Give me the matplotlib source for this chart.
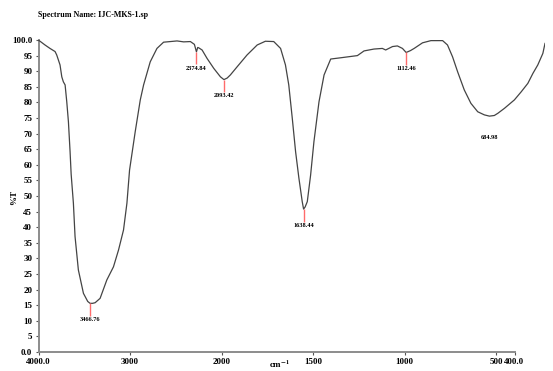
import matplotlib
matplotlib.use("Agg")
import matplotlib.pyplot as plt
import numpy as np

# FT-IR trace (wavenumber in cm-1, %T)
wavenumber = [4000, 3979, 3928, 3877, 3825, 3808, 3774, 3756, 3740, 3722, 3705,
              3688, 3671, 3660, 3637, 3620, 3586, 3534, 3490, 3466, 3440, 3414,
              3363, 3294, 3226, 3174, 3123, 3088, 3061, 3003, 2951, 2917, 2849,
              2780, 2712, 2643, 2574, 2506, 2437, 2396, 2375, 2362, 2352, 2317,
              2266, 2197, 2129, 2093, 2060, 2027, 1979, 1928, 1876, 1834, 1791,
              1756, 1731, 1714, 1696, 1679, 1662, 1645, 1638, 1630, 1619, 1602,
              1585, 1559, 1533, 1499, 1448, 1362, 1328, 1277, 1234, 1217, 1182,
              1157, 1131, 1112, 1090, 1071, 1028, 985, 925, 900, 874, 848, 814,
              780, 745, 711, 685, 660, 642, 608, 557, 522, 488, 462, 437, 411, 400]
transmittance = [100.0, 99.6, 98.4, 97.3, 96.3, 95.2, 92.0, 88.2, 86.6, 85.6, 80.2,
                 73.8, 64.2, 57.0, 47.7, 37.0, 26.3, 18.8, 16.2, 15.6, 15.6, 15.8,
                 17.2, 23.1, 27.3, 32.7, 39.1, 47.7, 58.3, 70.6, 80.8, 85.6, 93.0,
                 97.3, 99.3, 99.5, 99.7, 99.4, 99.5, 98.6, 96.2, 97.6, 97.5, 96.8,
                 94.1, 90.9, 88.2, 87.3, 87.8, 88.8, 91.4, 95.2, 98.4, 99.6, 99.5,
                 97.3, 92.0, 85.6, 74.9, 64.2, 55.7, 48.2, 45.8, 46.5, 48.2, 56.7,
                 67.4, 80.2, 88.8, 93.9, 94.3, 95.0, 96.5, 97.1, 97.3, 96.8, 97.9,
                 98.1, 97.3, 96.0, 96.6, 97.3, 99.1, 99.8, 99.8, 98.4, 94.6, 89.8,
                 84.0, 79.7, 77.0, 76.0, 75.6, 75.8, 76.5, 78.1, 80.8, 83.4, 86.1,
                 89.3, 92.0, 95.7, 98.9]

peak_wavenumbers = [3466.76, 2374.84, 2093.42, 1638.44, 1112.46, 684.98]
peak_values = [15.6, 96.2, 87.3, 45.8, 96.0, 75.6]
peak_labels = ["3466.76", "2374.84", "2093.42", "1638.44", "1112.46", "684.98"]

x_ticks = [4000, 3000, 2000, 1500, 1000, 500, 400]
x_tick_labels = ["4000.0", "3000", "2000", "1500", "1000", "500", "400.0"]
y_ticks = [0, 5, 10, 15, 20, 25, 30, 35, 40, 45, 50, 55, 60, 65, 70, 75, 80, 85, 90, 95, 100]
y_tick_labels = ["0.0", "5", "10", "15", "20", "25", "30", "35", "40", "45", "50",
                 "55", "60", "65", "70", "75", "80", "85", "90", "95", "100.0"]


# spectrum x axis: scale doubles below 2000 cm-1
def forward(w):
    w = np.asarray(w, dtype=float)
    return np.where(w >= 2000, 1000 + (w - 2000) / 2, w - 1000)


def inverse(u):
    u = np.asarray(u, dtype=float)
    return np.where(u >= 1000, 2000 + 2 * (u - 1000), u + 1000)


plt.rcParams["font.family"] = ["Liberation Serif", "DejaVu Serif"]
plt.rcParams["font.weight"] = "bold"
plt.rcParams["mathtext.fontset"] = "stix"

W, H = 553, 371
fig = plt.figure(figsize=(W / 100, H / 100), dpi=100)

# frame with the tick labels
ax = fig.add_axes([38.5 / W, 19 / H, 476 / W, 312 / H])
ax.set_xscale("function", functions=(forward, inverse))
ax.set_xlim(4000, 400)
ax.set_ylim(0, 100)
ax.set_xticks(x_ticks)
ax.set_xticklabels(x_tick_labels)
ax.set_yticks(y_ticks)
ax.set_yticklabels(y_tick_labels)
ax.minorticks_off()
for side in ["top", "right"]:
    ax.spines[side].set_visible(False)
for side in ["left", "bottom"]:
    ax.spines[side].set_color("#8c8c8c")
    ax.spines[side].set_linewidth(1.4)
ax.tick_params(axis="both", length=2.5, width=0.8, color="#555555", labelsize=6.5, pad=2)

# the exported trace is drawn a little wider than the tick frame
ax2 = fig.add_axes([38 / W, 19 / H, 507 / W, 312 / H])
ax2.set_xscale("function", functions=(forward, inverse))
ax2.set_xlim(4000, 400)
ax2.set_ylim(0, 100)
ax2.axis("off")
ax2.patch.set_alpha(0)

ax2.plot(wavenumber, transmittance, color="#444444", linewidth=0.9)

# peak markers
for w, v, lab in zip(peak_wavenumbers, peak_values, peak_labels):
    if w > 1000:
        ax2.vlines(w, v - 4, v, color="#ff6b6b", linewidth=1.0)
        ax2.text(w, v - 4.4, lab, ha="center", va="top", fontsize=4.5, fontweight="bold")
    else:
        ax2.text(w, v - 6, lab, ha="center", va="top", fontsize=4.5, fontweight="bold")

fig.text(38 / W, 1 - 15 / H, "Spectrum Name: IJC-MKS-1.sp", fontsize=5.8,
         fontweight="bold", va="center", ha="left")
fig.text(14 / W, 1 - 197 / H, "%T", fontsize=6.5, fontweight="bold", rotation=90,
         va="center", ha="center")
fig.text(280 / W, 1 / H, r"cm$^{\mathbf{-1}}$", fontsize=6.5, fontweight="bold",
         va="bottom", ha="center")

fig.savefig("out.png", dpi=100)
